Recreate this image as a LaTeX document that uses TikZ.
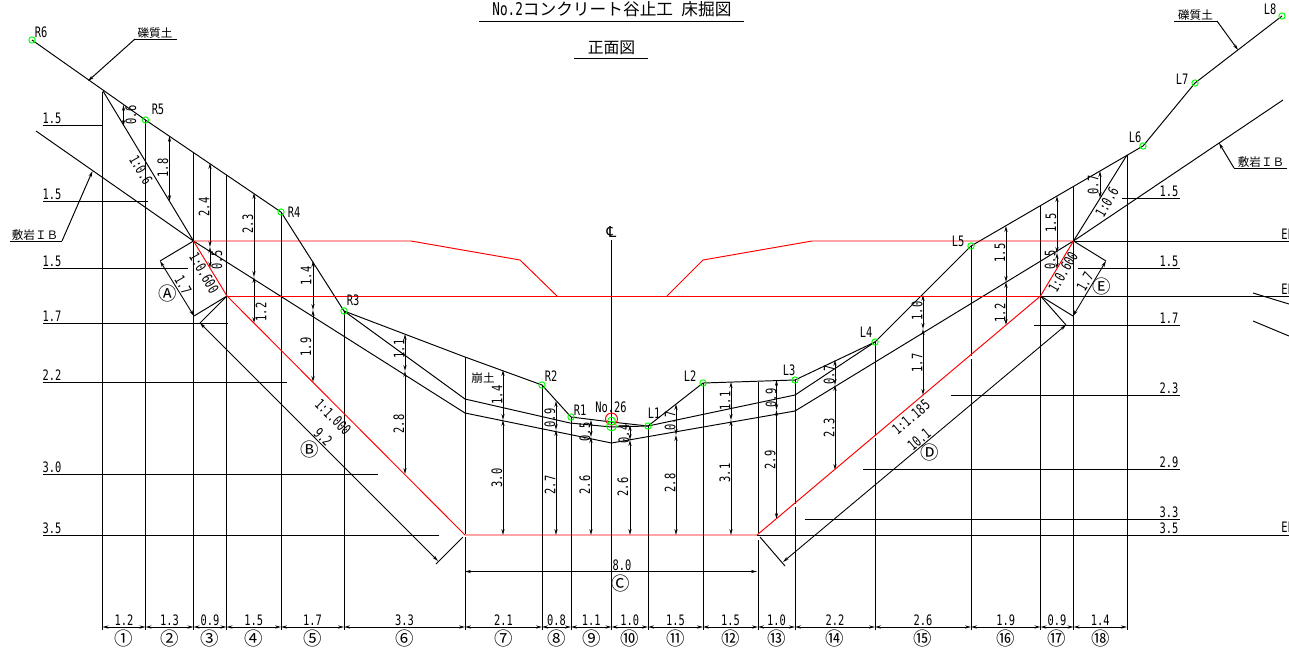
\documentclass[tikz,border=0pt]{standalone}
\usepackage{fontspec}
\usepackage{tikz}
\usetikzlibrary{arrows.meta,calc}
\newfontfamily\numfont[FakeStretch=.72]{DejaVu Sans Mono}
\newfontfamily\symfont{DejaVu Sans}
\newfontfamily\jpfont{Noto Sans CJK JP}
\tikzset{
  lab/.style={font=\numfont\fontsize{8.2}{10}\selectfont,inner sep=0pt},
  jplab/.style={font=\jpfont\fontsize{6.6}{8}\selectfont,inner sep=0pt},
  circlab/.style={font=\jpfont\fontsize{10.5}{12}\selectfont,inner sep=0pt},
  ttl/.style={font=\numfont\fontsize{10}{12}\selectfont,inner sep=0pt},
  survey/.style={circle,draw=green,line width=.55pt,minimum size=3.6pt,inner sep=0pt},
  line/.style={line width=.55pt},
  redline/.style={line width=.55pt,red},
  dimline/.style={line width=.5pt,{Stealth[length=3.4pt,width=1.8pt]}-{Stealth[length=3.4pt,width=1.8pt]}},
  leader/.style={line width=.55pt,-{Stealth[length=3.4pt,width=1.8pt]}}
}
\begin{document}
\begin{tikzpicture}[x=.02cm,y=-.02cm]
\useasboundingbox (0,0) rectangle (1289,650);
% survey points
\foreach \n/\x/\y in {R6/32/40,R5/145.5/120,R4/281/212,R3/344/311,R2/542/385,R1/571/417,
  L1/648/426,L2/703/383,L3/795/380,L4/875/342,L5/971/246,L6/1143/146,L7/1195/83,L8/1282/16}
  \coordinate (\n) at (\x,\y);
% corners of the cut
\path (193.5,241) coordinate (A1) (227,296) coordinate (A2) (465,535) coordinate (A3)
  (757,535) coordinate (A4) (1040.5,296) coordinate (A5) (1073.5,241) coordinate (A6)
  (103,91) coordinate (A7) (1127,155) coordinate (A8) (611.5,422) coordinate (M1);
% rock lines
\path (465,357) coordinate (G1) (465,399) coordinate (B1) (570,423) coordinate (B2)
  (611.5,427) coordinate (B3) (795,395) coordinate (B4) (36,131) coordinate (C1)
  (465,413) coordinate (C2) (611.5,443) coordinate (C3) (795,411) coordinate (C4)
  (1283,100) coordinate (C5);
% stations and their verticals
\foreach \n/\x/\t/\ga/\gb in {1/102.5/92/630/630,2/145.5/120/630/630,3/193.5/152/630/630,
  4/226.5/175/630/630,5/281/212/630/630,6/344/311/630/630,7/465/357/534/537,8/542/385/630/630,
  9/571/417/630/630,10/611.5/240/630/630,11/648/426/630/630,12/703/383/630/630,13/758/382/533/540,
  14/795/380/504/507,15/875/342/436/438,16/971/246/356/359,17/1040.5/205/630/630,
  18/1073.5/187/630/630,19/1127/155/630/630}{
  \coordinate (S\n) at (\x,\t);
  \coordinate (Z\n) at (\x,627);
  \coordinate (W\n) at (\x,630);
  \draw[line] (S\n) -- (\x,\ga);
  \draw[line] (\x,\gb) -- (W\n);
}
% bottom row
\foreach \a/\b/\t/\c in {1/2/1.2/①,2/3/1.3/②,3/4/0.9/③,4/5/1.5/④,5/6/1.7/⑤,6/7/3.3/⑥,
  7/8/2.1/⑦,8/9/0.8/⑧,9/10/1.1/⑨,10/11/1.0/⑩,11/12/1.5/⑪,12/13/1.5/⑫,13/14/1.0/⑬,
  14/15/2.2/⑭,15/16/2.6/⑮,16/17/1.9/⑯,17/18/0.9/⑰,18/19/1.4/⑱}{
  \draw[dimline] (Z\a) -- (Z\b);
  \node[lab] (w\a) at ($(Z\a)!.5!(Z\b)+(0,-7)$) {\t};
  \node[circlab] (n\a) at ($(Z\a)!.5!(Z\b)+(0,11.5)$) {\c};
}
% ground and rock
\draw[line] (R6) -- (R5) -- (R4) -- (R3) -- (G1) -- (R2) -- (R1) -- (M1) -- (L1) -- (L2) -- (L3)
  -- (L4) -- (L5) -- (L6) -- (L7) -- (L8);
\draw[line] (R3) -- (B1) -- (B2) -- (B3) -- (L1) -- (B4) -- (L4);
\draw[line] (C1) -- (A1) -- (C2) -- (C3) -- (C4) -- (A6) -- (C5);
\draw[line] (A7) -- (A1);
\draw[line] (A8) -- (A6);
% levels on the left
\foreach \y/\e/\t in {125/103/1.5,201/148/1.5,268/188/1.5,323/228/1.7,382/287/2.2,474/378/3.0,535/439/3.5}{
  \draw[line] (43,\y) coordinate (l\y) -- (\e,\y);
  \node[lab] (tl\y) at (52,\y-6.5) {\t};
}
% levels on the right
\foreach \y/\s/\t in {198/1122/1.5,268/1078/1.5,325/1034/1.7,395/951/2.3,469/863/2.9,519/805/3.3,535/757/3.5}{
  \draw[line] (\s,\y) -- (1180,\y) coordinate (r\y);
  \node[lab] (tr\y) at (1169,\y-6.5) {\t};
}
\draw[line] (A6) -- (1289,241);
\draw[line] (A5) -- (1289,296);
\draw[line] (A4) -- (1289,535);
\draw[line] (1253,293) -- (1289,304);
\draw[line] (1253,321) -- (1289,336);
\foreach \y in {234,289,527}
  \node[lab,anchor=west] (el\y) at (1281,\y) {EL};
% vertical dimensions
\foreach \x/\a/\b/\lx/\ly/\t in {123.5/105/126/131/115/0.6,169.5/136/201/163/168/1.8,
  210/163/247/204/207/2.4,210/247/268/217/260/0.5,254/193/277/248/224/2.3,254/277/323/261/312/1.2,
  313/261/310/306/276/1.4,313/310/382/306/347/1.9,405/334/371/399/349/1.1,405/371/474/399/424/2.8,
  503/370/420/497/395/1.4,503/420/535/497/478/3.0,556/401/430/550/418/0.9,556/430/535/550/485/2.7,
  591/420/437/585/432/0.5,591/437/535/585/485/2.6,630/425/440/624/434/0.4,630/440/535/623/487/2.6,
  676/404/435/670/421/0.7,676/435/535/670/483/2.8,731/382/420/725/401/1.1,731/420/535/725/473/3.1,
  776.5/380/410/771/398/0.9,776.5/410/519/770/460/2.9,835/360/385/829/375/0.7,835/385/470/829/428/2.3,
  923/295/329/917/311/1.0,923/329/395/917/363/1.7,1006/226/282/1000/253/1.5,1006/282/325/1000/313/1.2,
  1057/196/253/1051/223/1.5,1057/253/269/1050/260/0.5,1100/171/198/1093/185/0.7}{
  \draw[dimline] (\x,\a) -- (\x,\b);
  \node[lab,rotate=90] at (\lx,\ly) {\t};
}
% slanted dimensions
\path (160,261) coordinate (D1) (194,316) coordinate (D2) (200,323) coordinate (D3) (438,561) coordinate (D4)
  (1066,325) coordinate (D5) (783,562) coordinate (D6) (1106,261) coordinate (D7) (1073,316) coordinate (D8);
\draw[dimline] (D1) -- (D2);
\draw[line] (A1) -- (D1);
\draw[line] (A2) -- (D2);
\draw[dimline] (D3) -- (D4);
\draw[line] (A2) -- (D3);
\draw[line] (463,537) -- (436,564);
\draw[dimline] (D5) -- (D6);
\draw[line] (A5) -- (D5);
\draw[line] (760,537) -- (785,566);
\draw[dimline] (D7) -- (D8);
\draw[line] (A6) -- (D7);
\draw[line] (A5) -- (D8);
\foreach \x/\y/\r/\t in {141/170/-60/1:0.6,204/273/-60/1:0.600,333/417/-45/1:1.000,323/437/-45/9.2,
  183/285/-60/1.7,911/417/40/1:1.185,919/439/40/10.1,1107/202/60/1:0.6,1063/272/60/1:0.600,1085/282/60/1.7}
  \node[lab,rotate=\r] at (\x,\y) {\t};
\foreach \x/\y/\t in {168/293/Ⓐ,310/449/Ⓑ,621/583/Ⓒ,930/452/Ⓓ,1102/286/Ⓔ}
  \node[circlab] at (\x,\y) {\t};
% base width
\draw[dimline] (465,571.5) coordinate (E1) -- (757,571.5) coordinate (E2);
\node[lab] (wid) at (622,565) {8.0};
% centre line
\draw[line] (S10) -- (W10);
\node[lab,font=\symfont\fontsize{8.6}{10}\selectfont] (cl) at (611.5,232) {℄};
% cut in red
\draw[redline] (A1) -- (411,241) -- (520,260) -- (557,296);
\draw[redline] (667,296) -- (703,260) -- (812,241) -- (A6);
\draw[redline] (A2) -- (A5);
\draw[redline] (A1) -- (A2) -- (A3) -- (A4) -- (A5) -- (A6);
% marks
\foreach \n/\x/\y in {R6/41/32,R5/158/109,R4/294/212,R3/353/300,R2/551/376,R1/580/410,L1/654/413,
  L2/690/376,L3/789/370,L4/866/332,L5/958/241,L6/1135/137,L7/1182/79,L8/1270/9}{
  \node[survey] (m\n) at (\n) {};
  \node[lab] (t\n) at (\x,\y) {\n};
}
\node[lab] (no) at (611,407) {No.26};
\node[circle,draw=red,line width=.55pt,minimum size=6.8pt,inner sep=0pt] (mk) at (611.5,419) {};
\node[survey,minimum size=4.5pt] (m1) at (611.5,421) {};
\node[survey,minimum size=5.6pt] (m2) at (611.5,426) {};
% soil labels
\node[jplab] (so1) at (155,33) {礫質土};
\coordinate (so1a) at (135,39);
\draw[line] (177,39) -- (so1a);
\draw[leader] (so1a) -- (88,81);
\node[jplab] (so2) at (1195.5,15) {礫質土};
\coordinate (so2a) at (1217,21);
\draw[line] (1174,21) -- (so2a);
\draw[leader] (so2a) -- (1238,50);
\node[jplab] (ro1) at (35,235) {敷岩ＩＢ};
\coordinate (ro1a) at (62,241);
\draw[line] (10,241) -- (ro1a);
\draw[leader] (ro1a) -- (92.5,171);
\node[jplab] (ro2) at (1261,162) {敷岩ＩＢ};
\coordinate (ro2a) at (1234,168);
\draw[line] (1287,168) -- (ro2a);
\draw[leader] (ro2a) -- (1219,143);
\node[jplab] (sl) at (483,378) {崩土};
% titles
\node[ttl] (ti) at (612,9) {No.2{\jpfont\fontsize{9.5}{12}\selectfont コンクリート谷止工\hspace{.5em}床掘図}};
\draw[line] (479,21) -- (744,21);
\node[jplab,font=\jpfont\fontsize{9}{12}\selectfont] (tj) at (611.5,48) {正面図};
\draw[line] (574,58) -- (648,58);
\end{tikzpicture}
\end{document}
